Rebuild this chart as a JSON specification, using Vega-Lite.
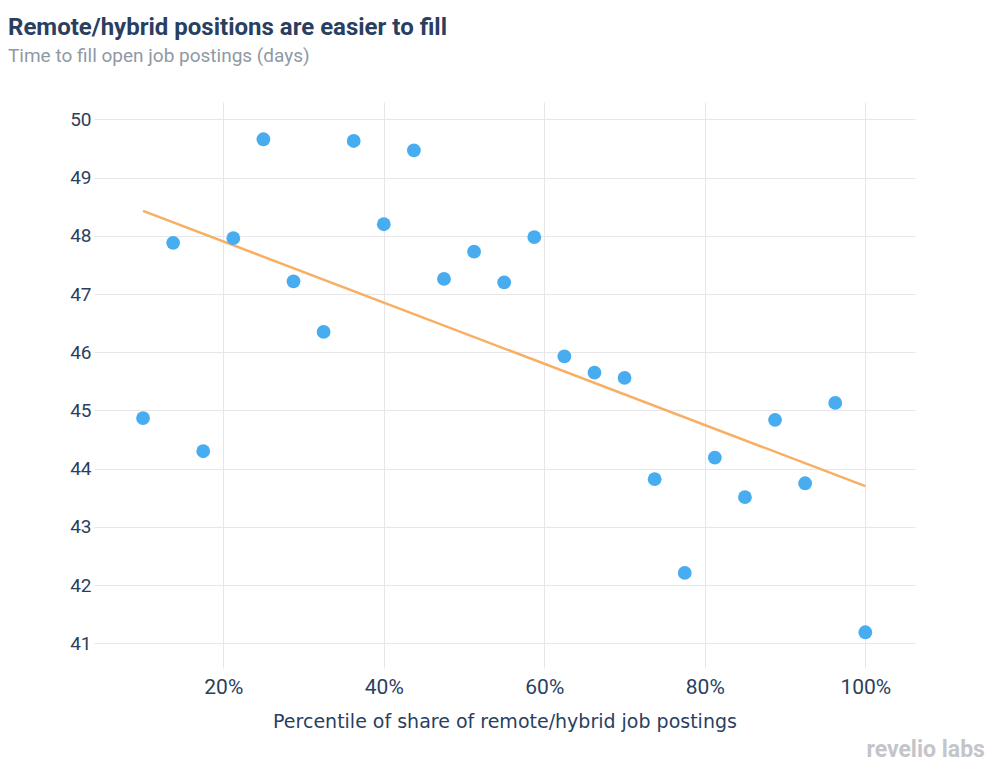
{
  "$schema": "https://vega.github.io/schema/vega-lite/v6.json",
  "autosize": {"type": "none"},
  "width": 821,
  "height": 566,
  "padding": {"left": 94, "top": 102, "right": 90, "bottom": 110},
  "background": "white",
  "title": {
    "text": "Remote/hybrid positions are easier to fill",
    "subtitle": "Time to fill open job postings (days)",
    "anchor": "start",
    "frame": "group",
    "dx": -86,
    "offset": 36,
    "font": "Roboto",
    "fontSize": 24,
    "fontWeight": "bold",
    "color": "#2a3f5f",
    "subtitleFont": "Roboto",
    "subtitleFontSize": 19,
    "subtitleColor": "#8e99a4",
    "subtitlePadding": 7
  },
  "config": {
    "view": {"stroke": null},
    "axis": {
      "gridColor": "#e6e6eb",
      "gridWidth": 1,
      "domain": false,
      "ticks": false,
      "labelColor": "#2a3f5f",
      "titleColor": "#2a3f5f",
      "labelFont": "Roboto",
      "titleFont": "DejaVu Sans",
      "titleFontWeight": "normal"
    }
  },
  "datasets": {
    "points": [
      {"pct": 0.1, "days": 44.87},
      {"pct": 0.1375, "days": 47.88},
      {"pct": 0.175, "days": 44.3},
      {"pct": 0.2125, "days": 47.96},
      {"pct": 0.25, "days": 49.66},
      {"pct": 0.2875, "days": 47.22},
      {"pct": 0.325, "days": 46.35},
      {"pct": 0.3625, "days": 49.63},
      {"pct": 0.4, "days": 48.2},
      {"pct": 0.4375, "days": 49.47},
      {"pct": 0.475, "days": 47.26},
      {"pct": 0.5125, "days": 47.73},
      {"pct": 0.55, "days": 47.2},
      {"pct": 0.5875, "days": 47.98},
      {"pct": 0.625, "days": 45.93},
      {"pct": 0.6625, "days": 45.65},
      {"pct": 0.7, "days": 45.56},
      {"pct": 0.7375, "days": 43.82},
      {"pct": 0.775, "days": 42.21},
      {"pct": 0.8125, "days": 44.19},
      {"pct": 0.85, "days": 43.51},
      {"pct": 0.8875, "days": 44.84},
      {"pct": 0.925, "days": 43.75},
      {"pct": 0.9625, "days": 45.13},
      {"pct": 1.0, "days": 41.19}
    ],
    "trend": [
      {"pct": 0.1, "days": 48.43},
      {"pct": 1.0, "days": 43.7}
    ],
    "logo": [
      {"pct": 1.149, "days": 39.17, "label": "revelio labs"}
    ]
  },
  "layer": [
    {
      "data": {"name": "trend"},
      "mark": {"type": "line", "color": "#f8ae63", "strokeWidth": 2.5},
      "encoding": {
        "x": {
          "field": "pct",
          "type": "quantitative",
          "scale": {"domain": [0.0389, 1.0619], "nice": false, "zero": false},
          "axis": {
            "values": [0.2, 0.4, 0.6, 0.8, 1.0],
            "format": ".0%",
            "labelFontSize": 21,
            "labelPadding": 8,
            "title": "Percentile of share of remote/hybrid job postings",
            "titleFontSize": 19,
            "titlePadding": 15
          }
        },
        "y": {
          "field": "days",
          "type": "quantitative",
          "scale": {"domain": [40.576, 50.3], "nice": false, "zero": false},
          "axis": {
            "values": [41, 42, 43, 44, 45, 46, 47, 48, 49, 50],
            "format": "d",
            "labelFontSize": 19,
            "labelPadding": 3,
            "title": null
          }
        }
      }
    },
    {
      "data": {"name": "points"},
      "mark": {"type": "circle", "color": "#48acf0", "opacity": 1, "size": 190},
      "encoding": {
        "x": {"field": "pct", "type": "quantitative"},
        "y": {"field": "days", "type": "quantitative"}
      }
    },
    {
      "data": {"name": "logo"},
      "mark": {"type": "text", "align": "right", "baseline": "middle", "font": "Roboto", "fontWeight": "bold", "fontSize": 23, "color": "#c3c5ca"},
      "encoding": {
        "x": {"field": "pct", "type": "quantitative"},
        "y": {"field": "days", "type": "quantitative"},
        "text": {"field": "label"}
      }
    }
  ]
}
